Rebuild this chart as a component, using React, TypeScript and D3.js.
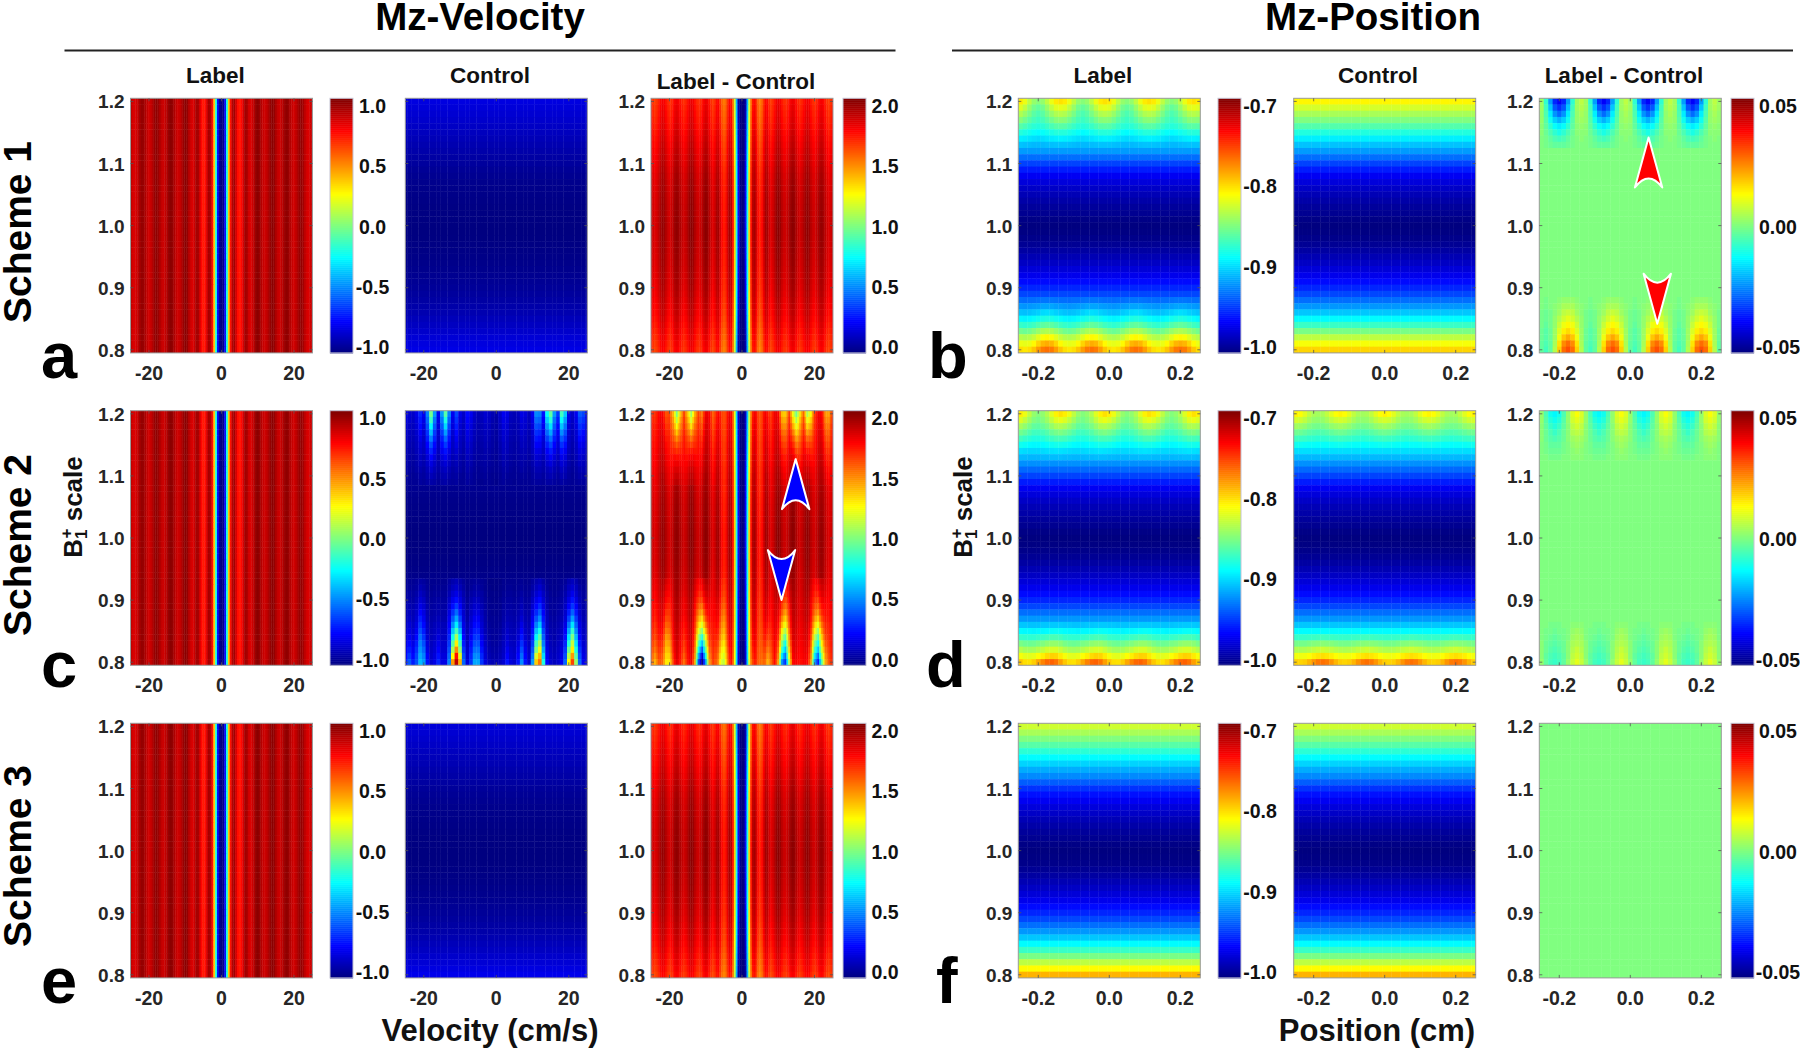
import React from "react";
import * as d3 from "d3";

// ---------- axes ----------
const b1Values = d3.range(41).map((i) => +(1.2 - i * 0.01).toFixed(2));
const b1Ticks = [1.2, 1.1, 1.0, 0.9, 0.8];
const velTicks = [-20, 0, 20];
const posTicks = [-0.2, 0.0, 0.2];
const velFine = d3.range(101).map((i) => -25 + i * 0.5);
const velCoarse = d3.range(51).map((i) => -25 + i);
const posValues = d3.range(41).map((i) => -0.25 + i * 0.0125);

// ---------- Mz ----------
// Label Mz against velocity, from -25 to 0 cm/s (the panel is mirror symmetric)
const labelVelHalf = [
  0.88, 0.84, 0.82, 0.84, 0.88, 0.93, 0.96, 0.95, 0.91, 0.87, 0.84, 0.86, 0.9, 0.95, 0.97, 0.95, 0.91, 0.87, 0.85, 0.87,
  0.91, 0.96, 0.98, 0.96, 0.91, 0.87, 0.85, 0.86, 0.9, 0.95, 0.98, 0.96, 0.9, 0.85, 0.82, 0.85, 0.92, 0.93, 0.84, 0.74,
  0.7, 0.73, 0.84, 0.93, 0.9, 0.72, 0.35, -0.2, -0.72, -0.97, -1,
];
const labelVel = [...labelVelHalf, ...labelVelHalf.slice(0, -1).reverse()];

// Control Mz per B1 row (1.20 to 0.80)
const baseS1 = [
  -0.81, -0.825, -0.838, -0.85, -0.863, -0.878, -0.892, -0.905, -0.917, -0.93, -0.943, -0.955, -0.966, -0.973, -0.979,
  -0.984, -0.988, -0.992, -0.995, -0.998, -1, -0.999, -0.997, -0.994, -0.99, -0.985, -0.98, -0.974, -0.968, -0.96, -0.952,
  -0.942, -0.93, -0.918, -0.904, -0.888, -0.871, -0.852, -0.832, -0.815, -0.8,
];
const baseS2 = [
  -0.825, -0.835, -0.847, -0.86, -0.872, -0.885, -0.897, -0.908, -0.92, -0.932, -0.943, -0.955, -0.966, -0.973, -0.979,
  -0.984, -0.988, -0.992, -0.995, -0.998, -1, -0.999, -0.997, -0.994, -0.99, -0.985, -0.98, -0.974, -0.968, -0.96, -0.952,
  -0.942, -0.93, -0.918, -0.904, -0.888, -0.87, -0.85, -0.832, -0.81, -0.785,
];
const baseS3 = [
  -0.827, -0.838, -0.85, -0.862, -0.875, -0.888, -0.9, -0.912, -0.922, -0.935, -0.948, -0.958, -0.966, -0.973, -0.979,
  -0.984, -0.988, -0.992, -0.995, -0.998, -1, -0.999, -0.997, -0.994, -0.99, -0.985, -0.98, -0.974, -0.968, -0.96, -0.952,
  -0.942, -0.93, -0.918, -0.904, -0.888, -0.871, -0.852, -0.832, -0.812, -0.79,
];

// Scheme 2 Control against velocity, in hundredths; -25..25 cm/s, top block from B1 = 1.20 downward
const controlS2Top = [
  [-80,-84,-86,-80,-68,-78,-50,-2,-45,-78,-45,-8,-50,-78,-62,-80,-86,-74,-78,-86,-90,-88,-84,-86,-90,-92,-86,-78,-80,-88,-90,-88,-80,-82,-88,-78,-48,-50,-72,-25,-6,-45,-65,-12,-35,-80,-86,-78,-58,-62,-80],
  [-82,-85,-87,-82,-71,-80,-55,-14,-52,-80,-52,-20,-56,-80,-66,-82,-87,-76,-80,-87,-90,-89,-85,-87,-91,-93,-87,-80,-82,-89,-90,-89,-82,-84,-88,-80,-54,-56,-75,-35,-18,-52,-70,-24,-44,-81,-87,-80,-62,-66,-82],
  [-84,-87,-88,-84,-74,-82,-60,-26,-58,-82,-58,-32,-62,-82,-70,-84,-88,-78,-82,-88,-91,-90,-87,-88,-92,-93,-88,-82,-84,-90,-91,-90,-84,-85,-89,-82,-60,-62,-78,-45,-30,-58,-74,-36,-52,-83,-88,-82,-66,-70,-84],
  [-85,-88,-89,-85,-77,-84,-65,-38,-64,-84,-64,-44,-67,-84,-74,-85,-89,-80,-84,-89,-91,-90,-88,-89,-92,-94,-89,-84,-85,-90,-91,-90,-85,-87,-90,-84,-66,-68,-80,-54,-42,-64,-77,-47,-60,-84,-89,-84,-70,-74,-85],
  [-86,-89,-90,-87,-80,-86,-70,-50,-69,-86,-70,-55,-72,-86,-78,-87,-90,-82,-85,-90,-92,-91,-89,-90,-93,-94,-90,-85,-87,-91,-92,-91,-87,-88,-91,-86,-71,-73,-83,-63,-53,-70,-80,-58,-67,-86,-90,-85,-74,-77,-86],
  [-88,-90,-91,-88,-83,-87,-75,-60,-74,-87,-74,-64,-76,-87,-81,-88,-91,-84,-87,-91,-93,-92,-90,-91,-93,-95,-91,-87,-88,-92,-93,-92,-88,-89,-91,-87,-76,-77,-85,-70,-62,-75,-83,-66,-73,-87,-91,-87,-78,-80,-87],
  [-89,-91,-92,-89,-85,-88,-79,-68,-78,-88,-78,-72,-80,-88,-84,-89,-92,-86,-88,-92,-93,-93,-91,-92,-94,-95,-92,-88,-89,-92,-93,-92,-90,-90,-92,-88,-80,-81,-87,-76,-70,-79,-85,-73,-78,-88,-92,-88,-81,-83,-88],
  [-90,-92,-93,-91,-87,-90,-83,-75,-82,-90,-82,-78,-84,-90,-87,-91,-93,-88,-90,-93,-94,-93,-92,-93,-95,-96,-93,-90,-91,-93,-94,-93,-91,-91,-93,-90,-84,-85,-89,-81,-77,-83,-88,-79,-82,-90,-93,-90,-84,-86,-90],
  [-91,-93,-94,-92,-89,-91,-86,-81,-86,-91,-86,-83,-87,-91,-89,-92,-94,-90,-91,-94,-95,-94,-93,-94,-95,-96,-94,-91,-92,-94,-95,-94,-92,-93,-94,-91,-87,-88,-91,-85,-82,-87,-90,-83,-86,-91,-94,-91,-87,-88,-91],
  [-92,-94,-95,-93,-91,-93,-89,-85,-89,-92,-89,-87,-90,-93,-91,-93,-95,-91,-93,-95,-96,-95,-94,-95,-96,-96,-95,-93,-93,-95,-96,-95,-93,-94,-95,-93,-90,-90,-92,-89,-87,-90,-92,-87,-89,-93,-95,-93,-90,-90,-92],
  [-93,-95,-96,-95,-93,-94,-91,-89,-91,-94,-91,-90,-92,-94,-93,-95,-96,-93,-94,-96,-96,-96,-95,-96,-97,-97,-96,-94,-95,-96,-96,-96,-95,-95,-96,-94,-92,-92,-94,-91,-90,-92,-94,-90,-91,-94,-96,-94,-92,-92,-94],
  [-95,-96,-96,-96,-94,-95,-93,-92,-93,-95,-93,-92,-94,-95,-94,-96,-96,-94,-95,-96,-97,-97,-96,-96,-97,-98,-96,-95,-96,-96,-97,-96,-96,-96,-96,-95,-94,-94,-95,-93,-93,-94,-95,-93,-94,-95,-96,-95,-94,-94,-95],
];
// bottom block, from B1 = 0.80 upward
const controlS2Bottom = [
  [-70,-58,-70,-60,-38,-45,-72,-84,-80,-68,-80,-80,-50,45,88,40,-55,-82,-65,-42,-42,-65,-82,-88,-90,-90,-88,-84,-72,-82,-85,-72,-48,-72,-84,-45,35,52,-20,-75,-85,-88,-85,-78,-55,25,62,5,-55,-78,-82],
  [-74,-64,-74,-62,-42,-50,-76,-86,-82,-72,-82,-82,-55,25,72,20,-60,-84,-68,-48,-48,-68,-84,-90,-92,-92,-90,-86,-76,-84,-86,-75,-54,-75,-85,-52,18,38,-32,-78,-87,-89,-86,-80,-60,10,45,-8,-60,-80,-84],
  [-77,-70,-77,-66,-46,-55,-80,-87,-84,-76,-84,-84,-60,8,48,2,-65,-85,-71,-54,-53,-72,-85,-91,-93,-93,-91,-87,-79,-85,-87,-78,-60,-78,-86,-58,0,22,-42,-80,-88,-90,-87,-82,-64,-5,28,-20,-65,-82,-85],
  [-80,-74,-80,-70,-50,-60,-82,-88,-85,-79,-85,-85,-64,-8,28,-12,-70,-87,-74,-60,-59,-76,-87,-92,-94,-94,-92,-88,-82,-87,-88,-81,-66,-81,-87,-63,-12,8,-50,-82,-89,-91,-88,-84,-68,-18,14,-30,-70,-84,-86],
  [-83,-78,-83,-74,-54,-65,-84,-89,-87,-82,-87,-87,-68,-22,8,-26,-74,-88,-77,-65,-64,-79,-88,-93,-95,-95,-93,-89,-84,-88,-89,-84,-71,-84,-88,-68,-26,-8,-56,-84,-90,-92,-89,-86,-72,-30,0,-38,-74,-86,-87],
  [-85,-81,-85,-78,-60,-70,-86,-90,-88,-85,-88,-88,-72,-36,-12,-40,-78,-89,-80,-70,-69,-82,-90,-94,-95,-95,-94,-90,-86,-89,-90,-86,-76,-86,-89,-72,-38,-22,-62,-85,-91,-92,-90,-87,-76,-42,-15,-48,-78,-87,-88],
  [-87,-83,-87,-81,-65,-74,-87,-91,-89,-87,-89,-89,-75,-48,-28,-52,-80,-90,-83,-74,-73,-84,-91,-95,-96,-96,-95,-91,-88,-90,-91,-88,-80,-88,-90,-75,-50,-36,-68,-87,-92,-93,-91,-88,-80,-52,-30,-56,-80,-88,-89],
  [-89,-86,-89,-84,-70,-78,-89,-92,-91,-89,-91,-91,-78,-58,-42,-62,-83,-92,-85,-78,-77,-86,-92,-96,-96,-96,-96,-92,-90,-91,-92,-90,-84,-90,-91,-78,-60,-48,-72,-88,-93,-94,-92,-90,-83,-62,-44,-64,-83,-90,-90],
  [-90,-88,-90,-86,-75,-81,-90,-93,-92,-91,-92,-92,-81,-66,-54,-70,-85,-93,-87,-82,-81,-88,-93,-96,-97,-97,-96,-93,-91,-92,-93,-91,-87,-91,-92,-81,-68,-58,-76,-89,-94,-95,-93,-91,-85,-70,-56,-71,-85,-91,-91],
  [-91,-90,-91,-88,-80,-84,-91,-94,-93,-92,-93,-93,-84,-73,-64,-76,-87,-94,-89,-85,-85,-90,-94,-97,-97,-97,-97,-94,-93,-93,-94,-93,-89,-93,-93,-84,-74,-67,-80,-91,-95,-95,-94,-92,-87,-76,-65,-76,-87,-92,-92],
  [-93,-92,-93,-90,-84,-87,-93,-95,-94,-93,-94,-94,-87,-79,-73,-81,-89,-95,-91,-88,-88,-92,-95,-97,-98,-98,-97,-95,-94,-94,-95,-94,-91,-94,-94,-87,-79,-74,-84,-92,-95,-96,-95,-93,-89,-81,-72,-81,-89,-93,-93],
  [-94,-93,-94,-92,-87,-90,-94,-96,-95,-95,-95,-95,-90,-84,-80,-85,-91,-96,-93,-91,-91,-93,-96,-98,-98,-98,-98,-96,-95,-95,-96,-95,-93,-95,-95,-90,-84,-80,-87,-93,-96,-97,-96,-94,-91,-85,-79,-85,-91,-94,-94],
  [-95,-95,-95,-94,-90,-92,-95,-97,-96,-96,-96,-96,-92,-88,-85,-89,-93,-97,-95,-93,-93,-95,-97,-98,-99,-99,-98,-97,-96,-96,-97,-96,-95,-96,-96,-92,-88,-85,-90,-95,-97,-97,-97,-95,-93,-88,-84,-88,-93,-95,-95],
  [-96,-96,-96,-95,-93,-94,-96,-97,-97,-97,-97,-97,-94,-91,-89,-92,-95,-97,-96,-95,-95,-96,-97,-99,-99,-99,-99,-97,-97,-97,-97,-97,-96,-97,-97,-94,-91,-89,-93,-96,-97,-98,-97,-96,-95,-91,-88,-91,-95,-96,-96],
];

// Ripple across position, in thousandths: one spatial period (10 cells of 0.0125 cm) per B1 row.
// "Top" lists start at B1 = 1.20 going down, "Bottom" lists start at B1 = 0.80 going up.
const diffS1Top = [
  [3,-8,-22,-34,-38,-34,-22,-8,3,6],
  [3,-6,-18,-29,-33,-29,-18,-6,3,5],
  [2,-5,-14,-23,-27,-23,-14,-5,2,4],
  [2,-4,-11,-17,-20,-17,-11,-4,2,3],
  [1,-3,-8,-12,-14,-12,-8,-3,1,2],
  [1,-2,-5,-8,-10,-8,-5,-2,1,1],
  [0,-1,-3,-5,-6,-5,-3,-1,0,1],
  [0,-1,-2,-3,-3,-3,-2,-1,0,0],
];
const diffS1Bottom = [
  [-3,-6,-3,5,17,27,30,27,17,5],
  [-3,-5,-3,4,15,24,27,24,15,4],
  [-2,-4,-2,3,11,18,21,18,11,3],
  [-2,-4,-2,3,9,14,16,14,9,3],
  [-1,-3,-1,2,7,11,13,11,7,2],
  [-1,-2,-1,2,5,8,10,8,5,2],
  [-1,-2,-1,1,3,6,7,6,3,1],
  [0,-1,0,1,2,4,4,4,2,1],
  [0,-1,0,0,1,2,2,2,1,0],
];
const diffS2Top = [
  [2,-5,-11,-13,-11,-5,2,9,12,9],
  [2,-4,-9,-11,-9,-4,2,8,10,8],
  [1,-3,-7,-9,-7,-3,1,6,8,6],
  [1,-2,-5,-7,-5,-2,1,5,6,5],
  [1,-2,-4,-5,-4,-2,1,3,4,3],
  [0,-1,-3,-3,-3,-1,0,2,3,2],
  [0,-1,-2,-2,-2,-1,0,1,2,1],
  [0,0,-1,-1,-1,0,0,1,1,1],
];
const diffS2Bottom = [
  [2,-3,-6,-7,-6,-3,2,7,10,7],
  [1,-3,-5,-6,-5,-3,1,6,8,6],
  [1,-2,-4,-5,-4,-2,1,5,7,5],
  [1,-2,-3,-4,-3,-2,1,4,5,4],
  [0,-1,-2,-3,-2,-1,0,3,4,3],
  [0,-1,-1,-2,-1,-1,0,2,3,2],
  [0,0,-1,-1,-1,0,0,1,1,1],
];
const ctrlS2PosTop = [
  [15,12,4,-6,-13,-15,-13,-6,4,12],
  [10,8,3,-4,-9,-10,-9,-4,3,8],
  [7,5,2,-3,-6,-7,-6,-3,2,5],
  [5,4,1,-2,-4,-5,-4,-2,1,4],
  [3,2,1,-1,-2,-3,-2,-1,1,2],
  [2,1,0,-1,-1,-2,-1,-1,0,1],
];
const ctrlS2PosBottom = [
  [-13,-15,-13,-6,4,12,15,12,4,-6],
  [-6,-7,-6,-3,2,5,7,5,2,-3],
  [-4,-5,-4,-2,1,3,5,3,1,-2],
  [-3,-3,-3,-1,1,2,3,2,1,-1],
  [-2,-2,-2,-1,0,1,2,1,0,-1],
];

// White-edged arrowheads: tip in data units, pointing up or down
const arrowsPos = [
  { pos: 0.0515, b1: 1.142, dir: 1 },
  { pos: 0.076, b1: 0.842, dir: -1 },
];
const arrowsVel = [
  { vel: 14.8, b1: 1.127, dir: 1 },
  { vel: 10.9, b1: 0.9, dir: -1 },
];

const schemeNames = ["Scheme 1", "Scheme 2", "Scheme 3"];
const letters = [
  ["a", "b"],
  ["c", "d"],
  ["e", "f"],
];

// ---------- value lookups ----------
const ripple = (top: number[][], bottom: number[][], i: number, j: number) => {
  const t = top[i];
  const b = bottom[40 - i];
  return ((t ? t[j % 10] : 0) + (b ? b[j % 10] : 0)) / 1000;
};
const ctrlVelS2Coarse = (i: number, c: number) => {
  if (i < controlS2Top.length) return controlS2Top[i][c] / 100;
  const k = 40 - i;
  if (k < controlS2Bottom.length) return controlS2Bottom[k][c] / 100;
  return baseS2[i];
};
const ctrlVelS2Fine = (i: number, k: number) =>
  (ctrlVelS2Coarse(i, Math.floor(k / 2)) + ctrlVelS2Coarse(i, Math.ceil(k / 2))) / 2;

// ---------- colours ----------
const clamp01 = (v: number) => Math.max(0, Math.min(1, v));
const jet = (t: number) => {
  const r = clamp01(1.5 - Math.abs(4 * t - 3));
  const g = clamp01(1.5 - Math.abs(4 * t - 2));
  const b = clamp01(1.5 - Math.abs(4 * t - 1));
  return `rgb(${Math.round(r * 255)},${Math.round(g * 255)},${Math.round(b * 255)})`;
};

// ---------- layout ----------
const FONT = "'Liberation Sans', Arial, sans-serif";
const rowTops = [98.3, 410.7, 723.3];
const PH = 254.6;
const PW = 182;
const colLefts = [130.5, 405.3, 651, 1018.3, 1293.7, 1539.3];
const barLefts: Record<number, number> = { 0: 330, 2: 843, 3: 1218, 5: 1731 };
const BW = 23;
const y0 = d3.scaleLinear().domain([1.205, 0.795]);
const xVel0 = d3.scaleLinear().domain([-25.1, 25.1]);
const xPos0 = d3.scaleLinear().domain([-0.25625, 0.25625]);

type HeatProps = {
  id: string;
  left: number;
  top: number;
  xs: number[];
  dx: number;
  rows: number[];
  x: d3.ScaleLinear<number, number>;
  y: d3.ScaleLinear<number, number>;
  domain: [number, number];
  value: (i: number, j: number) => number;
};

function Heat({ id, left, top, xs, dx, rows, x, y, domain, value }: HeatProps) {
  const t = d3.scaleLinear().domain(domain).range([0, 1]).clamp(true);
  const cells: React.ReactElement[] = [];
  rows.forEach((r, i) => {
    let y1 = y(r + 0.005);
    let y2 = y(r - 0.005);
    if (i === 0) y1 -= 5;
    if (i === rows.length - 1) y2 += 5;
    xs.forEach((xv, j) => {
      let x1 = x(xv - dx / 2);
      let x2 = x(xv + dx / 2);
      if (j === 0) x1 -= 5;
      if (j === xs.length - 1) x2 += 5;
      cells.push(
        <rect key={`${i}-${j}`} x={x1} y={y1} width={x2 - x1 + 0.4} height={y2 - y1 + 0.4} fill={jet(t(value(i, j)))} />
      );
    });
  });
  return (
    <g clipPath={`url(#clip-${id})`}>
      <clipPath id={`clip-${id}`}>
        <rect x={left} y={top} width={PW} height={PH} />
      </clipPath>
      <g filter="url(#soft)">{cells}</g>
    </g>
  );
}

function Frame({ left, top, x, y, xTicks, yLabels, fmt }: any) {
  const tickColor = "#555";
  return (
    <g>
      <rect x={left} y={top} width={PW} height={PH} fill="none" stroke="#9a9a9a" strokeWidth={1} />
      {xTicks.map((v: number) => (
        <g key={v}>
          <line x1={x(v)} x2={x(v)} y1={top} y2={top + 3} stroke={tickColor} strokeWidth={0.8} />
          <line x1={x(v)} x2={x(v)} y1={top + PH} y2={top + PH - 3} stroke={tickColor} strokeWidth={0.8} />
          <text
            x={x(v)}
            y={top + PH + 27}
            textAnchor="middle"
            fontFamily={FONT}
            fontWeight="bold"
            fontSize={19.5}
            fill="#262626"
          >
            {fmt(v)}
          </text>
        </g>
      ))}
      {b1Ticks.map((v) => (
        <g key={v}>
          <line x1={left} x2={left + 3} y1={y(v)} y2={y(v)} stroke={tickColor} strokeWidth={0.8} />
          <line x1={left + PW} x2={left + PW - 3} y1={y(v)} y2={y(v)} stroke={tickColor} strokeWidth={0.8} />
          {yLabels && (
            <text
              x={left - 6}
              y={y(v) + 7}
              textAnchor="end"
              fontFamily={FONT}
              fontWeight="bold"
              fontSize={19}
              fill="#262626"
            >
              {v.toFixed(1)}
            </text>
          )}
        </g>
      ))}
    </g>
  );
}

function ColorBar({ left, top, domain, ticks, fmt, textX }: any) {
  const bands = d3.range(128);
  const band = d3.scaleBand<number>().domain(bands).range([top + PH, top]);
  const labelY = d3
    .scaleLinear()
    .domain([ticks[0], ticks[ticks.length - 1]])
    .range([top + PH - 5.5, top + 7.5]);
  return (
    <g>
      {bands.map((b) => (
        <rect key={b} x={left} y={band(b)!} width={BW} height={band.bandwidth() + 0.5} fill={jet((b + 0.5) / 128)} />
      ))}
      <rect x={left} y={top} width={BW} height={PH} fill="none" stroke="#c4c4d4" strokeWidth={1} />
      {ticks.map((v: number) => (
        <text
          key={v}
          x={textX}
          y={labelY(v) + 7}
          textAnchor="middle"
          fontFamily={FONT}
          fontWeight="bold"
          fontSize={19.5}
          fill="#111"
        >
          {fmt(v)}
        </text>
      ))}
    </g>
  );
}

function Arrow({ cx, tip, dir, fill }: { cx: number; tip: number; dir: number; fill: string }) {
  const L = 50;
  const N = 41;
  const HW = 13.7;
  const base = tip + dir * L;
  const mid = tip + dir * N;
  const ctrl = 2 * mid - base;
  return (
    <path
      d={`M${cx},${tip}L${cx - HW},${base}Q${cx},${ctrl} ${cx + HW},${base}Z`}
      fill={fill}
      stroke="#fff"
      strokeWidth={2}
      strokeLinejoin="round"
    />
  );
}

const titleProps = { fontFamily: FONT, fontWeight: "bold", fill: "#111" } as const;

export default function App() {
  const panels: React.ReactElement[] = [];
  rowTops.forEach((top, s) => {
    const y = y0.copy().range([top, top + PH]);
    const base = [baseS1, baseS2, baseS3][s];
    const ctrlVel = (i: number, c: number) => (s === 1 ? ctrlVelS2Coarse(i, c) : base[i]);
    const ctrlVelF = (i: number, k: number) => (s === 1 ? ctrlVelS2Fine(i, k) : base[i]);
    const diffPos = (i: number, j: number) =>
      s === 0 ? ripple(diffS1Top, diffS1Bottom, i, j) : s === 1 ? ripple(diffS2Top, diffS2Bottom, i, j) : 0;
    const ctrlPos = (i: number, j: number) => (s === 1 ? base[i] + ripple(ctrlS2PosTop, ctrlS2PosBottom, i, j) : base[i]);

    const cols = colLefts.map((left, c) =>
      (c < 3 ? xVel0 : xPos0).copy().range([left, left + PW])
    );
    const fmtV = (v: number) => String(v);
    const fmtP = (v: number) => v.toFixed(1);
    const common = (c: number) => ({ id: `${s}-${c}`, left: colLefts[c], top, rows: b1Values, x: cols[c], y });

    panels.push(
      <g key={s}>
        <Heat {...common(0)} xs={velFine} dx={0.5} domain={[-1, 1]} value={(_i, j) => labelVel[j]} />
        <Heat {...common(1)} xs={velCoarse} dx={1} domain={[-1, 1]} value={ctrlVel} />
        <Heat {...common(2)} xs={velFine} dx={0.5} domain={[0, 2]} value={(i, j) => labelVel[j] - ctrlVelF(i, j)} />
        <Heat
          {...common(3)}
          xs={posValues}
          dx={0.0125}
          domain={[-1, -0.7]}
          value={(i, j) => ctrlPos(i, j) + diffPos(i, j)}
        />
        <Heat {...common(4)} xs={posValues} dx={0.0125} domain={[-1, -0.7]} value={ctrlPos} />
        <Heat {...common(5)} xs={posValues} dx={0.0125} domain={[-0.05, 0.05]} value={diffPos} />
        {colLefts.map((left, c) => (
          <Frame
            key={c}
            left={left}
            top={top}
            x={cols[c]}
            y={y}
            xTicks={c < 3 ? velTicks : posTicks}
            yLabels={c !== 1 && c !== 4}
            fmt={c < 3 ? fmtV : fmtP}
          />
        ))}
        <ColorBar left={barLefts[0]} top={top} ticks={[-1, -0.5, 0, 0.5, 1]} fmt={(v: number) => v.toFixed(1)} textX={372.5} />
        <ColorBar left={barLefts[2]} top={top} ticks={[0, 0.5, 1, 1.5, 2]} fmt={(v: number) => v.toFixed(1)} textX={885} />
        <ColorBar left={barLefts[3]} top={top} ticks={[-1, -0.9, -0.8, -0.7]} fmt={(v: number) => v.toFixed(1)} textX={1260} />
        <ColorBar left={barLefts[5]} top={top} ticks={[-0.05, 0, 0.05]} fmt={(v: number) => v.toFixed(2)} textX={1778} />
        {s === 0 &&
          arrowsPos.map((a, k) => <Arrow key={k} cx={cols[5](a.pos)} tip={y(a.b1)} dir={a.dir} fill="#ff0000" />)}
        {s === 1 &&
          arrowsVel.map((a, k) => <Arrow key={k} cx={cols[2](a.vel)} tip={y(a.b1)} dir={a.dir} fill="#0000ff" />)}
        <text
          transform={`translate(30.5,${[232, 545, 856][s]}) rotate(-90)`}
          textAnchor="middle"
          fontSize={39}
          {...titleProps}
          fill="#000"
        >
          {schemeNames[s]}
        </text>
        <text x={41} y={[378, 687, 1003][s]} fontSize={65} {...titleProps} fill="#000">
          {letters[s][0]}
        </text>
        <text x={[928, 926, 936][s]} y={[378, 687, 1003][s]} fontSize={65} {...titleProps} fill="#000">
          {letters[s][1]}
        </text>
      </g>
    );
  });

  const b1Label = (x: number) => (
    <text transform={`translate(${x},507) rotate(-90)`} textAnchor="middle" fontSize={26} {...titleProps}>
      B
      <tspan fontSize={17} dy={5}>
        1
      </tspan>
      <tspan fontSize={17} dy={-15} dx={-9}>
        +
      </tspan>
      <tspan dy={10}> scale</tspan>
    </text>
  );

  return (
    <svg
      width={1800}
      height={1048}
      viewBox="0 0 1800 1048"
      style={{ position: "absolute", left: 0, top: 0, display: "block", background: "#fff" }}
    >
      <defs>
        <filter id="soft" x="-5%" y="-5%" width="110%" height="110%" colorInterpolationFilters="sRGB">
          <feGaussianBlur stdDeviation="0.7 0.35" />
        </filter>
      </defs>
      {panels}
      <text x={480} y={30} textAnchor="middle" fontSize={38.5} {...titleProps} fill="#000">
        Mz-Velocity
      </text>
      <text x={1373} y={30} textAnchor="middle" fontSize={38.5} {...titleProps} fill="#000">
        Mz-Position
      </text>
      <line x1={64.5} x2={895.5} y1={50.5} y2={50.5} stroke="#222" strokeWidth={2} />
      <line x1={952} x2={1793} y1={50.5} y2={50.5} stroke="#222" strokeWidth={2} />
      {[
        ["Label", 215.5, 83],
        ["Control", 490, 83],
        ["Label - Control", 736, 89],
        ["Label", 1103, 83],
        ["Control", 1378, 83],
        ["Label - Control", 1624, 83],
      ].map(([t, x, y], i) => (
        <text key={i} x={x as number} y={y as number} textAnchor="middle" fontSize={22.5} {...titleProps}>
          {t}
        </text>
      ))}
      {b1Label(82)}
      {b1Label(972)}
      <text x={490} y={1041} textAnchor="middle" fontSize={31} {...titleProps}>
        Velocity (cm/s)
      </text>
      <text x={1377} y={1041} textAnchor="middle" fontSize={31} {...titleProps}>
        Position (cm)
      </text>
    </svg>
  );
}
